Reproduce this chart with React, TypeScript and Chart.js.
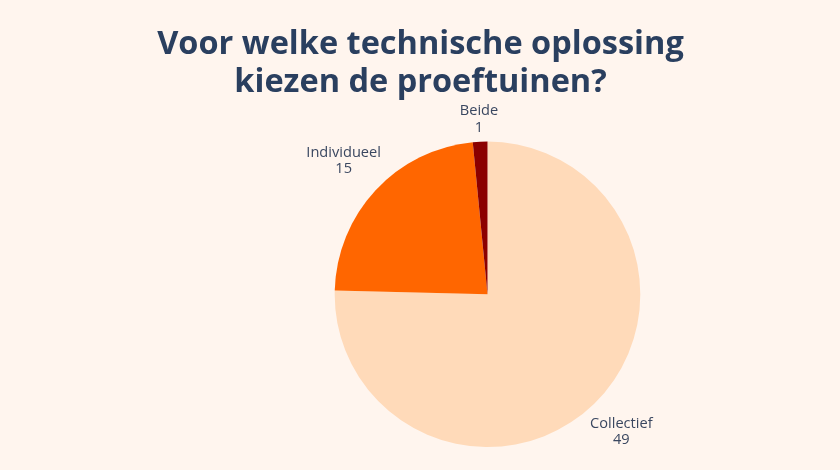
import React, { useEffect, useRef } from "react";
import { Chart, registerables } from "chart.js";

Chart.register(...registerables);

const categories = ["Collectief", "Individueel", "Beide"];
const counts = [49, 15, 1];
const sliceColors = ["#ffdab9", "#ff6600", "#8b0000"];
const titleLines = ["Voor welke technische oplossing", "kiezen de proeftuinen?"];

const BG = "#fff5ee";
const TEXT = "#2a3f5f";
const LABEL_TEXT = "#3a4760";
const FONT = "'Open Sans', 'Noto Sans', sans-serif";

const bgPlugin = {
  id: "bgFill",
  beforeDraw(chart: any) {
    const { ctx, width, height } = chart;
    ctx.save();
    ctx.fillStyle = BG;
    ctx.fillRect(0, 0, width, height);
    ctx.restore();
  },
};

const titlePlugin = {
  id: "customTitle",
  afterDraw(chart: any) {
    const { ctx, width } = chart;
    ctx.save();
    ctx.fillStyle = TEXT;
    ctx.font = `bold 32.5px ${FONT}`;
    ctx.textAlign = "center";
    ctx.textBaseline = "alphabetic";
    titleLines.forEach((line, i) => {
      ctx.fillText(line, width / 2 + 0.5, 53.5 + i * 38.5);
    });
    ctx.restore();
  },
};

const outsideLabels = {
  id: "outsideLabels",
  afterDatasetsDraw(chart: any) {
    const { ctx } = chart;
    const meta = chart.getDatasetMeta(0);
    const fontSize = 14.6;
    const lineH = 16.7;
    ctx.save();
    ctx.font = `${fontSize}px ${FONT}`;
    ctx.fillStyle = LABEL_TEXT;
    ctx.textAlign = "center";
    ctx.textBaseline = "alphabetic";
    meta.data.forEach((arc: any, i: number) => {
      const p = arc.getProps(["x", "y", "startAngle", "endAngle", "outerRadius"], true);
      const mid = (p.startAngle + p.endAngle) / 2;
      const dx = Math.cos(mid);
      const dy = Math.sin(mid);
      const lines = [categories[i], String(counts[i])];
      const w = Math.max(...lines.map((l) => ctx.measureText(l).width));
      const halfW = w / 2;
      const halfH = lineH;
      const pad = 5;
      const dist = p.outerRadius + pad + Math.abs(dx) * halfW + Math.abs(dy) * halfH;
      const cx = p.x + dx * dist;
      const cy = p.y + dy * dist;
      const top = cy - halfH;
      lines.forEach((l, k) => {
        ctx.fillText(l, cx, top + 13 + k * lineH);
      });
    });
    ctx.restore();
  },
};

export default function App() {
  const ref = useRef<HTMLCanvasElement | null>(null);

  useEffect(() => {
    if (!ref.current) return;
    const chart = new Chart(ref.current, {
      type: "pie",
      data: {
        labels: categories,
        datasets: [
          {
            data: counts,
            backgroundColor: sliceColors,
            borderWidth: 0,
          },
        ],
      },
      options: {
        responsive: false,
        animation: false,
        rotation: 0,
        layout: {
          padding: { left: 334.7, right: 199.7, top: 141.5, bottom: 22.9 },
        },
        plugins: {
          legend: { display: false },
          title: { display: false },
          tooltip: { enabled: false },
        },
      },
      plugins: [bgPlugin, titlePlugin, outsideLabels],
    });
    return () => chart.destroy();
  }, []);

  return (
    <div style={{ position: "fixed", left: 0, top: 0, width: 840, height: 470, background: BG }}>
      <canvas ref={ref} width={840} height={470} style={{ display: "block" }} />
    </div>
  );
}
